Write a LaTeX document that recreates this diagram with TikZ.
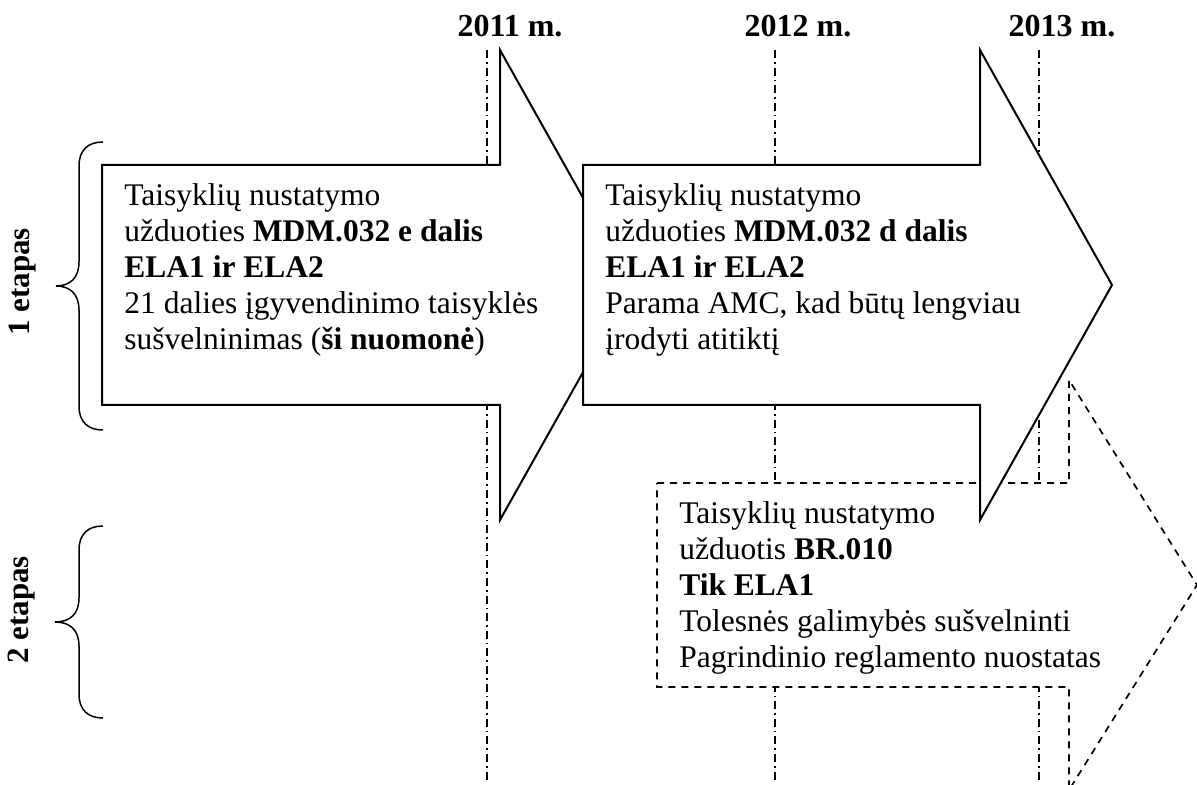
\documentclass[tikz,border=0pt]{standalone}
\usepackage{fontspec}
\setmainfont{Liberation Serif}
\begin{document}
\begin{tikzpicture}[x=0.5pt,y=-0.5pt,
  arrowshape/.style={draw=black, line width=1pt, fill=white, line join=miter},
  dasharrow/.style={draw=black, line width=0.85pt, fill=white, dash pattern=on 3.5pt off 3pt},
  yearline/.style={draw=black, line width=0.6pt, dash pattern=on 4pt off 2pt on 0.8pt off 2pt},
  bracestyle/.style={draw=black, line width=0.75pt},
  boxtext/.style={anchor=north west, inner sep=0pt, align=left, font=\fontsize{15.75pt}{18pt}\selectfont},
  yearlabel/.style={anchor=base, inner sep=0pt, font=\fontsize{16pt}{19pt}\selectfont\bfseries},
  stagelabel/.style={rotate=90, inner sep=0pt, font=\fontsize{15.5pt}{18pt}\selectfont\bfseries}
]
\useasboundingbox (0,0) rectangle (1197,785);
\clip (0,0) rectangle (1197,785);

% year lines
\coordinate (l11t) at (487,50);  \coordinate (l11b) at (487,780);
\coordinate (l12t) at (775,50);  \coordinate (l12b) at (775,780);
\coordinate (l13t) at (1039,50); \coordinate (l13b) at (1039,780);
\draw[yearline] (l11t) -- (l11b);
\draw[yearline] (l12t) -- (l12b);
\draw[yearline] (l13t) -- (l13b);

% year labels
\node[yearlabel] (y2011) at (510,37) {2011 m.};
\node[yearlabel] (y2012) at (798,37) {2012 m.};
\node[yearlabel] (y2013) at (1062,37) {2013 m.};

% dashed arrow (stage 2)
\path[dasharrow] (657,483) -- (1069,483) -- (1069,380) -- (1197,585) -- (1069,790) -- (1069,687) -- (657,687) -- cycle;

% arrow 1
\path[arrowshape] (102,165) -- (500,165) -- (500,50) -- (632,285) -- (500,520) -- (500,405) -- (102,405) -- cycle;
% arrow 2
\path[arrowshape] (583,165) -- (980,165) -- (980,50) -- (1112,285) -- (980,520) -- (980,405) -- (583,405) -- cycle;

% texts
\node[boxtext] (t1) at (124,181) {\rule{0pt}{12pt}Taisyklių nustatymo\\
užduoties \textbf{MDM.032 e dalis}\\
\textbf{ELA1 ir ELA2}\\
21 dalies įgyvendinimo taisyklės\\
sušvelninimas (\textbf{ši nuomonė})};

\node[boxtext] (t2) at (605,181) {\rule{0pt}{12pt}Taisyklių nustatymo\\
užduoties \textbf{MDM.032 d dalis}\\
\textbf{ELA1 ir ELA2}\\
Parama AMC, kad būtų lengviau\\
įrodyti atitiktį};

\node[boxtext] (t3) at (679,499) {\rule{0pt}{12pt}Taisyklių nustatymo\\
užduotis \textbf{BR.010}\\
\textbf{Tik ELA1}\\
Tolesnės galimybės sušvelninti\\
Pagrindinio reglamento nuostatas};

% braces
\draw[bracestyle] (103,142) .. controls (88,142) and (79,150) .. (79,166) -- (79,262)
  .. controls (79,278) and (70,286) .. (56,286) .. controls (70,286) and (79,294) .. (79,310)
  -- (79,406) .. controls (79,422) and (88,430) .. (103,430);
\draw[bracestyle] (103,526) .. controls (88,526) and (79,534) .. (79,550) -- (79,598)
  .. controls (79,614) and (70,622) .. (55,622) .. controls (70,622) and (79,630) .. (79,646)
  -- (79,694) .. controls (79,710) and (88,718) .. (103,718);

% stage labels
\node[stagelabel] (s1) at (23,282) {1 etapas};
\node[stagelabel] (s2) at (22,610) {2 etapas};
\end{tikzpicture}
\end{document}
